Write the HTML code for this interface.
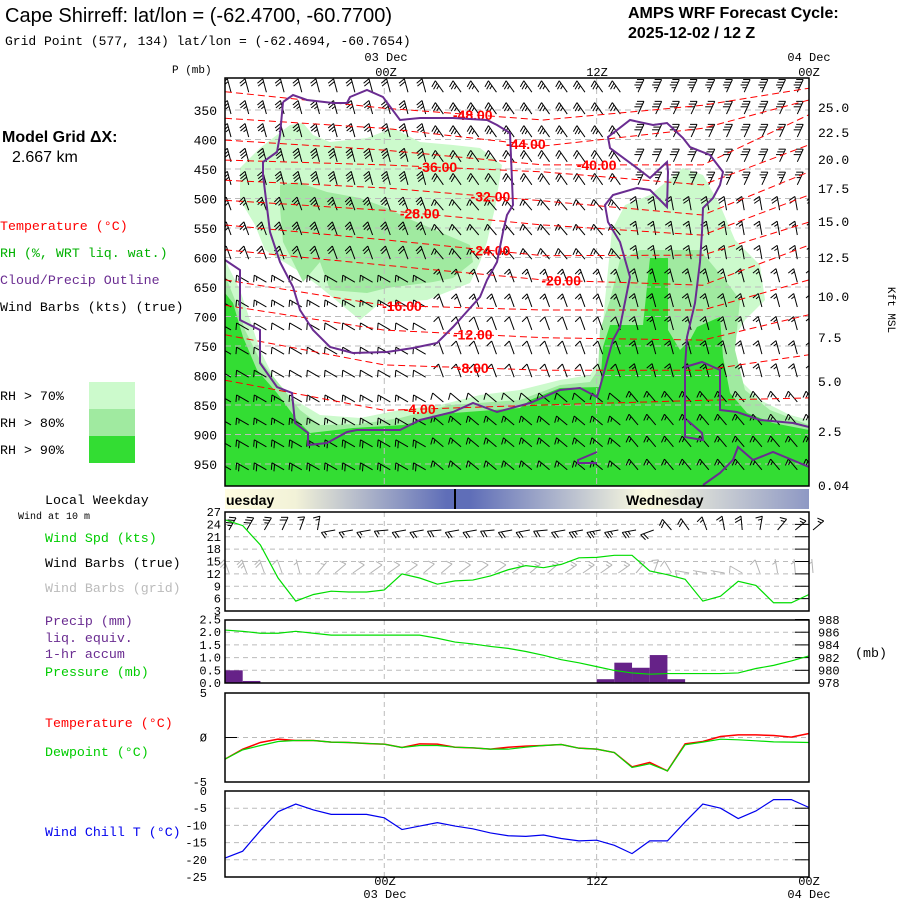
<!DOCTYPE html>
<html><head><meta charset="utf-8"><title>AMPS Cape Shirreff</title>
<style>
html,body{margin:0;padding:0;background:#fff;}
svg{display:block;font-family:"Liberation Mono","DejaVu Sans Mono",monospace;}
.t{font-family:"Liberation Sans",sans-serif;}
</style></head>
<body>
<svg id="chart" width="900" height="900" viewBox="0 0 900 900" xmlns="http://www.w3.org/2000/svg">
<defs>
<linearGradient id="dayg" x1="225" x2="809" y1="0" y2="0" gradientUnits="userSpaceOnUse">
<stop offset="0" stop-color="#fffde0"/><stop offset="0.12" stop-color="#f2f2d8"/>
<stop offset="0.38" stop-color="#5f6eb8"/><stop offset="0.42" stop-color="#5f6eb8"/>
<stop offset="0.72" stop-color="#fcfce0"/><stop offset="1" stop-color="#8e98c4"/>
</linearGradient>
</defs>
<text class="t" x="5" y="22" font-size="20">Cape Shirreff:  lat/lon = (-62.4700, -60.7700)</text>
<text x="5" y="45" font-size="13">Grid Point (577, 134) lat/lon = (-62.4694, -60.7654)</text>
<text class="t" x="628" y="18" font-size="16" font-weight="bold">AMPS WRF Forecast Cycle:</text>
<text class="t" x="628" y="38" font-size="16" font-weight="bold">2025-12-02 / 12  Z</text>
<text class="t" x="2" y="142" font-size="16" font-weight="bold">Model Grid ΔX:</text>
<text class="t" x="12" y="162" font-size="16">2.667 km</text>
<text x="0" y="230" font-size="13.3" fill="#ff0000">Temperature (°C)</text>
<text x="0" y="257" font-size="13.3" fill="#00b000">RH (%, WRT liq. wat.)</text>
<text x="0" y="284" font-size="13.3" fill="#6a2c91">Cloud/Precip Outline</text>
<text x="0" y="311" font-size="13.3" fill="#000">Wind Barbs (kts) (true)</text>
<g>
<rect x="89" y="382" width="46" height="27" fill="#ccfacc"/><rect x="89" y="409" width="46" height="27" fill="#a0eaa0"/><rect x="89" y="436" width="46" height="27" fill="#33dd33"/>
<text x="0" y="400" font-size="13.3">RH &gt; 70%</text><text x="0" y="427" font-size="13.3">RH &gt; 80%</text><text x="0" y="454" font-size="13.3">RH &gt; 90%</text>
</g>
<text x="172" y="73" font-size="11">P (mb)</text>
<text x="386" y="61" font-size="12" text-anchor="middle">03 Dec</text><text x="386" y="76" font-size="12" text-anchor="middle">00Z</text>
<text x="597" y="76" font-size="12" text-anchor="middle">12Z</text>
<text x="809" y="61" font-size="12" text-anchor="middle">04 Dec</text><text x="809" y="76" font-size="12" text-anchor="middle">00Z</text>
<text x="385" y="885" font-size="12" text-anchor="middle">00Z</text><text x="385" y="898" font-size="12" text-anchor="middle">03 Dec</text>
<text x="597" y="885" font-size="12" text-anchor="middle">12Z</text>
<text x="809" y="885" font-size="12" text-anchor="middle">00Z</text><text x="809" y="898" font-size="12" text-anchor="middle">04 Dec</text>
<text x="888" y="310" font-size="11" transform="rotate(90 888 310)" text-anchor="middle">Kft MSL</text>
<text x="45" y="504" font-size="13.3">Local Weekday</text>
<text x="18" y="519" font-size="10">Wind at 10 m</text>
<text x="45" y="542" font-size="13.3" fill="#00cc00">Wind Spd (kts)</text>
<text x="45" y="567" font-size="13.3">Wind Barbs (true)</text>
<text x="45" y="592" font-size="13.3" fill="#bbbbbb">Wind Barbs (grid)</text>
<text x="45" y="625" font-size="13.3" fill="#6a2c91">Precip (mm)</text>
<text x="45" y="642" font-size="13.3" fill="#6a2c91">liq. equiv.</text>
<text x="45" y="658" font-size="13.3" fill="#6a2c91">1-hr accum</text>
<text x="45" y="676" font-size="13.3" fill="#00cc00">Pressure (mb)</text>
<text x="855" y="657" font-size="13.3">(mb)</text>
<text x="45" y="727" font-size="13.3" fill="#ff0000">Temperature (°C)</text>
<text x="45" y="756" font-size="13.3" fill="#00cc00">Dewpoint (°C)</text>
<text x="45" y="836" font-size="13.3" fill="#0000ee">Wind Chill T (°C)</text>
<g>
<rect x="225" y="489" width="584" height="20" fill="url(#dayg)"/>
<line x1="455" y1="489" x2="455" y2="509" stroke="#000" stroke-width="2"/>
<text class="t" x="226" y="505" font-size="14" font-weight="bold">uesday</text>
<text class="t" x="626" y="505" font-size="14" font-weight="bold">Wednesday</text>
</g>
<g id="layer"></g>
</svg>
<script>
// ---- data ----
const hours = [0,1,2,3,4,5,6,7,8,9,10,11,12,13,14,15,16,17,18,19,20,21,22,23,24,25,26,27,28,29,30,31,32,33];
const windSpd = [25.1,23.7,19,11,5.4,7,7.8,7.6,7.6,8.1,12,11,9.5,10.3,10.5,11.5,13,14,13.5,14.3,15.9,16,16.5,16.5,12.7,11.8,10.7,5.4,6.6,10.2,9.2,5,5,7];
const trueDir = [30,30,30,25,20,10,-100,-100,-100,-95,-100,-100,-95,-100,-100,-95,-100,-100,-95,-100,-100,-100,-100,-100,-110,-40,-35,-20,-10,-5,10,40,50,50];
const gridDir = [-20,-20,-20,-20,-15,40,50,55,55,55,55,50,50,55,55,55,55,50,50,55,55,55,55,40,20,-30,-80,-80,-80,-60,-20,-10,-5,-5];
const precip = [0.5,0.08,0,0,0,0,0,0,0,0,0,0,0,0,0,0,0,0,0,0,0,0.15,0.8,0.6,1.1,0.15,0,0,0,0,0,0,0,0];
const pressure = [986.4,986.2,985.9,985.9,986.2,985.9,985.6,985.6,985.6,985.6,985.6,985.6,985.1,984.5,984.2,983.8,983.5,983.0,982.4,981.7,981.2,980.6,980.0,979.6,979.4,979.5,979.5,979.5,979.5,979.6,980.3,980.8,981.5,982.3];
const temperature = [-2.43,-1.31,-0.56,-0.19,-0.34,-0.34,-0.52,-0.56,-0.67,-0.75,-1.12,-0.71,-0.75,-1.09,-1.16,-1.31,-1.09,-0.97,-0.9,-0.79,-1.2,-1.31,-1.69,-3.3,-2.8,-3.75,-0.71,-0.45,0.11,0.3,0.3,0.22,0.04,0.45];
const dewpoint = [-2.43,-1.39,-0.9,-0.45,-0.34,-0.34,-0.52,-0.56,-0.67,-0.75,-1.12,-0.9,-0.9,-1.09,-1.16,-1.31,-1.31,-1.09,-0.9,-0.79,-1.2,-1.31,-1.69,-3.37,-2.96,-3.75,-0.82,-0.52,-0.19,-0.26,-0.37,-0.49,-0.52,-0.56];
const windChill = [-19.5,-17.5,-11.5,-6,-3.8,-5.5,-6.8,-6.8,-6.8,-7.8,-11.2,-10.2,-9.2,-10.2,-11,-12.2,-13,-13.2,-12.8,-13.8,-14.5,-14.3,-15.8,-18.2,-14.5,-14.5,-9,-3.8,-5,-8,-5.8,-2.5,-2.5,-4.8];
const isoLevels = [-48,-44,-40,-36,-32,-28,-24,-20,-16,-12,-8,-4];
const isoHours = [0,9,18,27,33];
const isoP = [
 [319,347,367,342,313],[364,381,411,381,333],[401,418,443,443,358],[435,443,455,477,409],
 [469,482,504,528,455],[503,520,545,562,494],[545,570,597,596,540],[587,613,638,647,579],
 [638,681,689,689,638],[681,723,736,740,697],[731,782,791,791,765],[808,859,850,842,838]];
const isoLabelHour = [14,17,21,12,15,11,15,19,10,14,14,11];
const barbLevels = [308,345,384,426,465,508,550,591,630,672,711,752,791,833,872,909,948];
const barbSpdEarly = [20,25,25,30,30,25,25,20,15,15,10,10,10,15,15,20,20];
const barbSpdMid   = [25,25,25,20,20,15,15,15,15,15,10,10,10,10,15,15,15];
const barbSpdLate  = [35,30,30,30,25,20,15,15,15,15,15,15,15,15,15,15,15];
const barbDirEarly = [-15,-15,-15,-15,-15,-20,-20,-20,-60,-60,-60,-60,-60,-60,-60,-60,-60];
const barbDirMid   = [-35,-35,-35,-35,-35,-40,-40,-40,-20,-20,-20,-20,-20,-50,-50,-50,-50];
const barbDirLate  = [25,25,25,25,25,-10,-10,-10,-15,-15,-15,-15,-15,-40,-40,-40,-40];
const pTicks = [350,400,450,500,550,600,650,700,750,800,850,900,950];
const kftTicks = [["25.0",107],["22.5",132],["20.0",159],["17.5",188],["15.0",221],["12.5",257],["10.0",296],["7.5",337],["5.0",381],["2.5",431],["0.04",485]];
const spdTicks = [27,24,21,18,15,12,9,6,3];
const precipTicks = ["2.5","2.0","1.5","1.0","0.5","0.0"];
const mbTicks = [988,986,984,982,980,978];
const tempTicks = [5,0,-5];
const chillTicks = [0,-5,-10,-15,-20,-25];
// digitized RH regions / cloud outlines (screen digitization converted to hour/pressure)
const dig = pts => pts.map(([x,y]) => [(x-225)/(584/33), 350+(y-110)*1.695]);
const rh70 = [
 dig([[240,168],[260,148],[290,125],[303,123],[313,135],[330,142],[367,138],[393,128],[420,142],[453,145],[480,148],[502,165],[495,208],[487,242],[480,262],[470,283],[427,300],[380,303],[360,320],[320,287],[300,272],[265,250],[255,225],[240,200]]),
 dig([[225,260],[225,486],[809,486],[809,420],[790,415],[760,400],[740,380],[730,345],[745,320],[765,300],[760,265],[735,240],[720,205],[703,175],[683,168],[650,195],[625,205],[612,230],[605,300],[600,360],[590,375],[560,380],[520,390],[480,395],[440,405],[400,410],[360,418],[320,415],[295,400],[275,380],[260,350],[250,320],[240,290]])];
const rh80 = [
 dig([[280,185],[297,182],[327,192],[360,198],[387,208],[407,218],[440,232],[470,245],[473,262],[453,278],[433,282],[387,288],[367,293],[330,290],[320,262],[303,282],[283,242],[280,208]]),
 dig([[225,275],[225,486],[809,486],[809,425],[770,410],[745,390],[735,350],[740,300],[725,280],[700,250],[640,250],[620,260],[610,300],[600,330],[598,370],[590,382],[560,385],[520,400],[450,405],[400,418],[360,424],[320,425],[300,410],[280,385],[260,360],[245,330],[235,300]])];
const rh90 = [
 dig([[225,293],[225,486],[809,486],[809,430],[773,423],[747,413],[730,393],[723,357],[720,317],[697,327],[690,340],[680,350],[668,330],[668,258],[650,258],[643,325],[610,325],[603,347],[600,387],[560,388],[530,400],[520,408],[453,413],[403,425],[353,428],[310,433],[297,420],[277,393],[257,370],[243,337],[233,303]])];
const cloudOutlines = [
 dig([[283,102],[293,95],[307,100],[333,103],[347,103],[350,97],[367,90],[383,97],[400,120],[420,118],[453,118],[487,120],[497,125],[510,133],[513,205],[507,215],[503,232],[497,262],[487,280],[480,297],[453,327],[437,343],[413,348],[387,352],[353,353],[330,347],[313,330],[300,310],[293,287],[280,262],[270,232],[263,175],[263,162],[277,152],[280,135],[283,102]]),
 dig([[225,260],[240,270],[240,320],[260,330],[260,363],[277,387],[292,393],[295,423],[308,433],[308,445],[327,443],[347,432],[357,430],[400,430],[420,420],[453,412],[473,403],[497,412],[530,403],[560,390],[580,388],[597,397],[600,387],[613,340],[620,327],[630,277],[620,242],[608,222],[605,205],[613,195],[637,188],[650,190],[667,207],[668,172],[667,162],[650,178],[637,168],[610,148],[608,137],[630,120],[653,125],[667,123],[683,138],[690,147],[710,155],[723,172],[720,185],[713,198],[703,208],[702,232],[700,262],[695,303],[687,337],[685,367],[702,362],[720,370],[720,410],[737,412],[760,420],[793,423],[809,427]]),
 dig([[685,367],[685,437],[703,440],[702,433],[687,420]]),
 dig([[809,467],[773,452],[753,460],[738,447],[733,460],[720,473],[703,485]]),
 dig([[597,452],[578,460],[578,463],[597,463]])];

// ---- axes ----
const X0=225, X1=809, XS=584/33;
const xh = h => X0 + h*XS;
const yp = p => 110 + (p-350)/1.695;
const ySpd = v => 611 - (v-3)*4.125;
const yPr = v => 683 - v*25.4;
const yMb = v => 683 - (v-978)*6.3;
const yT = v => 737.5 - v*8.9;
const yC = v => 791 - v*3.44;
const NS='http://www.w3.org/2000/svg';
const L = document.getElementById('layer');
function mk(tag, attrs, parent){ const e=document.createElementNS(NS,tag); for(const k in attrs) e.setAttribute(k,attrs[k]); (parent||L).appendChild(e); return e; }
function grp(name){ const g=mk('g',{});
 
 
 return g; }
const ptsStr = (arr, fx, fy) => arr.map(a=>fx(a[0]).toFixed(1)+','+fy(a[1]).toFixed(1)).join(' ');

const clip = mk('clipPath',{id:'mainclip'}); mk('rect',{x:X0,y:78,width:X1-X0,height:408},clip);
const main = grp('sounding-panel'); main.setAttribute('clip-path','url(#mainclip)');
function polyGroup(name, polys, fill){ const g=mk('g',{},main);
 
 
 polys.forEach(pl=>mk('polygon',{points:ptsStr(pl,xh,yp),fill:fill},g)); }
polyGroup('rh-70-region', rh70, '#ccfacc');
polyGroup('rh-80-region', rh80, '#a0eaa0');
polyGroup('rh-90-region', rh90, '#33dd33');
const mg = mk('g',{},main);
pTicks.forEach(p=>mk('line',{x1:X0,x2:X1,y1:yp(p),y2:yp(p),stroke:'#bbb','stroke-dasharray':'6,4'},mg));
[9,21].forEach(h=>mk('line',{x1:xh(h),x2:xh(h),y1:78,y2:486,stroke:'#bbb','stroke-dasharray':'6,4'},mg));
function barb(parent,x,y,ang,spd,color,len){
 len=len||15; const r=ang*Math.PI/180, dx=Math.sin(r), dy=-Math.cos(r);
 const ex=x+dx*len, ey=y+dy*len;
 const g=mk('g',{stroke:color,'stroke-width':1,fill:color},parent);
 
 
 mk('line',{x1:x,y1:y,x2:ex,y2:ey},g);
 const fr=(ang-115)*Math.PI/180, fx=Math.sin(fr), fy=-Math.cos(fr);
 let s=Math.round(spd/5)*5, pos=0;
 while(s>=50){ const ax=ex-dx*pos, ay=ey-dy*pos, bx=ex-dx*(pos+4), by=ey-dy*(pos+4);
  mk('polygon',{points:`${ax},${ay} ${ax+fx*7},${ay+fy*7} ${bx},${by}`},g); pos+=5; s-=50; }
 while(s>=10){ const ax=ex-dx*pos, ay=ey-dy*pos; mk('line',{x1:ax,y1:ay,x2:ax+fx*7,y2:ay+fy*7},g); pos+=3; s-=10; }
 if(s>=5){ if(pos===0) pos=3; const ax=ex-dx*pos, ay=ey-dy*pos; mk('line',{x1:ax,y1:ay,x2:ax+fx*4,y2:ay+fy*4},g); }
}
const bg = mk('g',{},main);
barbLevels.forEach((p,i)=>hours.forEach(h=>{
 const seg = h<12?0:(h<23?1:2);
 const spd=[barbSpdEarly,barbSpdMid,barbSpdLate][seg][i], dir=[barbDirEarly,barbDirMid,barbDirLate][seg][i];
 barb(bg, xh(h)+6, yp(p)+7, dir, spd, '#000', 14);
}));
const ig = mk('g',{},main);
isoLevels.forEach((lv,i)=>{
 const pts = isoHours.map((h,j)=>[h,isoP[i][j]]);
 const pl = mk('polyline',{points:ptsStr(pts,xh,yp),fill:'none',stroke:'#ff0000','stroke-dasharray':'7,4','stroke-width':1},ig);
 
 
 const h=isoLabelHour[i]; let k=0; while(k<isoHours.length-2 && isoHours[k+1]<h) k++;
 const f=(h-isoHours[k])/(isoHours[k+1]-isoHours[k]); const p=isoP[i][k]+f*(isoP[i][k+1]-isoP[i][k]);
 const t = mk('text',{x:xh(h),y:yp(p)+5,'font-size':14,'font-weight':'bold',fill:'#ff0000','text-anchor':'middle','font-family':'Liberation Sans, sans-serif'},ig);
 
 
 t.textContent = lv.toFixed(2);
});
const cg = mk('g',{},main);


cloudOutlines.forEach(pl=>mk('polyline',{points:ptsStr(pl,xh,yp),fill:'none',stroke:'#6a2c91','stroke-width':2},cg));
mk('rect',{x:X0,y:78,width:X1-X0,height:408,fill:'none',stroke:'#000','stroke-width':1.5});
const ax = grp('pressure-axis');
pTicks.forEach(p=>{ const t=mk('text',{x:217,y:yp(p)+5,'font-size':13,'text-anchor':'end'},ax); t.textContent=p; });
const kx = grp('kft-axis');
kftTicks.forEach(k=>{ const t=mk('text',{x:818,y:k[1]+5,'font-size':13},kx); t.textContent=k[0]; });

function panel(name,top,bot){ const g=grp(name);
 [9,21].forEach(h=>mk('line',{x1:xh(h),x2:xh(h),y1:top,y2:bot,stroke:'#bbb','stroke-dasharray':'5,4'},g));
 return g; }
function frame(g,top,bot){ mk('rect',{x:X0,y:top,width:X1-X0,height:bot-top,fill:'none',stroke:'#000','stroke-width':1.5},g); }
function hdash(g,y){ mk('line',{x1:X0,x2:X1,y1:y,y2:y,stroke:'#bbb','stroke-dasharray':'5,4'},g); }
function lbl(g,x,y,s,anchor,fill){ const t=mk('text',{x:x,y:y+4,'font-size':12,'text-anchor':anchor||'end',fill:fill||'#000'},g); t.textContent=s; }
const wp = panel('wind-panel',512,611);
spdTicks.forEach(v=>{ if(v!==27&&v!==3) hdash(wp,ySpd(v)); mk('line',{x1:X1-14,x2:X1,y1:ySpd(v),y2:ySpd(v),stroke:'#000'},wp); lbl(wp,221,ySpd(v),v); });
hours.forEach(h=>barb(wp,xh(h)+4,573,gridDir[h],windSpd[h],'#b4b4b4',14));
hours.forEach(h=>barb(wp,xh(h)+4,530,trueDir[h],windSpd[h]+8,'#000',14));
const wl = mk('polyline',{points:hours.map(h=>xh(h)+','+ySpd(windSpd[h])).join(' '),fill:'none',stroke:'#00dd00','stroke-width':1.2},wp);


frame(wp,512,611);
const pp = panel('precip-pressure-panel',620,683);
precipTicks.forEach((s,i)=>{ const y=yPr(parseFloat(s)); if(i>0&&i<5) hdash(pp,y); mk('line',{x1:X1-14,x2:X1,y1:y,y2:y,stroke:'#000'},pp); lbl(pp,221,y,s); });
mbTicks.forEach(v=>lbl(pp,818,yMb(v),v,'start'));
hours.forEach(h=>{ if(precip[h]>0){ const r=mk('rect',{x:xh(h),y:yPr(precip[h]),width:XS,height:683-yPr(precip[h]),fill:'#662288'},pp);
 
  }});
const prl = mk('polyline',{points:hours.map(h=>xh(h)+','+yMb(pressure[h])).join(' '),fill:'none',stroke:'#00dd00','stroke-width':1.2},pp);


frame(pp,620,683);
const tp = panel('temperature-panel',693,782);
hdash(tp,yT(0)); mk('line',{x1:X0,x2:X0+12,y1:yT(0),y2:yT(0),stroke:'#000'},tp);
tempTicks.forEach(v=>lbl(tp,207,yT(v),v===0?'Ø':v,'end'));
const tl = mk('polyline',{points:hours.map(h=>xh(h)+','+yT(temperature[h])).join(' '),fill:'none',stroke:'#ff0000','stroke-width':1.5},tp);


const dl = mk('polyline',{points:hours.map(h=>xh(h)+','+yT(dewpoint[h])).join(' '),fill:'none',stroke:'#00dd00','stroke-width':1.2},tp);


frame(tp,693,782);
const wc = panel('wind-chill-panel',791,877);
chillTicks.forEach(v=>{ const y=yC(v); if(v!==0&&v!==-25) hdash(wc,y); mk('line',{x1:X1-14,x2:X1,y1:y,y2:y,stroke:'#000'},wc); lbl(wc,207,y,v); });
const cl = mk('polyline',{points:hours.map(h=>xh(h)+','+yC(windChill[h])).join(' '),fill:'none',stroke:'#0000ee','stroke-width':1.2},wc);


frame(wc,791,877);
</script>
</body></html>
